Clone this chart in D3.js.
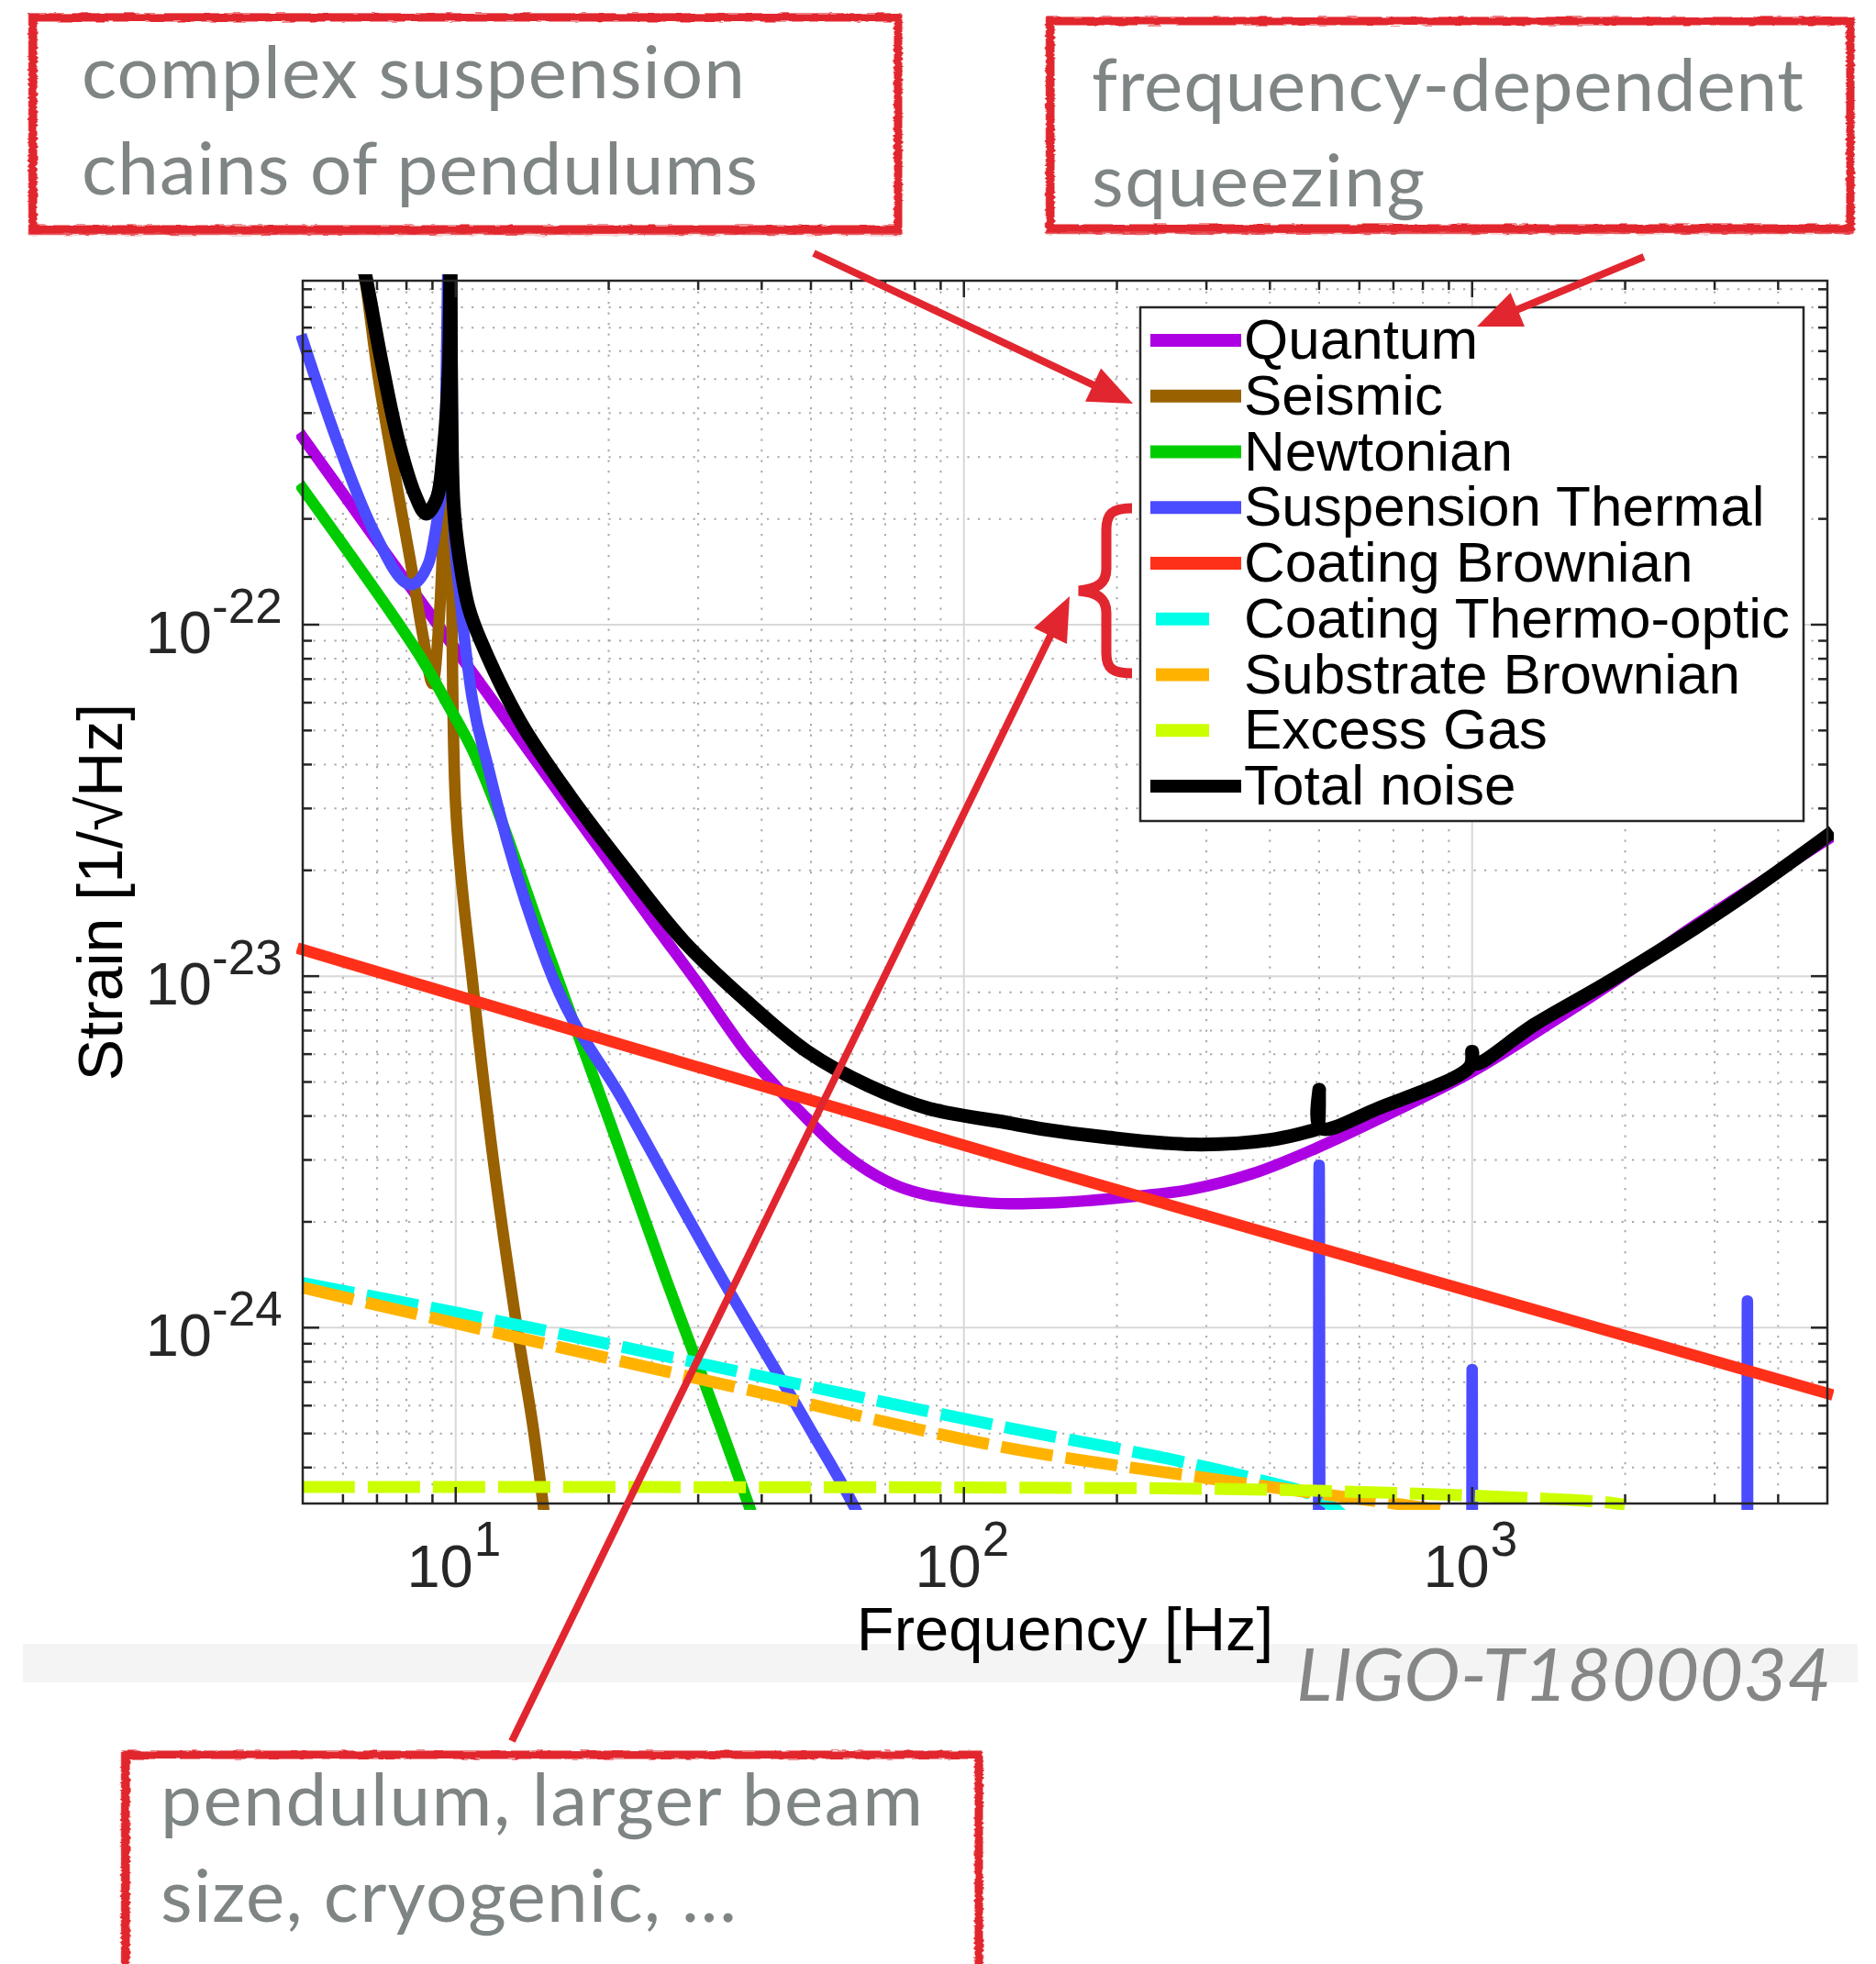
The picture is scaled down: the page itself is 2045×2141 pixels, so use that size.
<!DOCTYPE html>
<html>
<head>
<meta charset="utf-8">
<script src="https://d3js.org/d3.v7.min.js"></script>
<style>
  html, body { margin: 0; padding: 0; background: #ffffff; }
  svg { display: block; }
</style>
</head>
<body>
<div id="chart"></div>
<script>
// ---- Axis limits and tick labels -------------------------------------------
const freqDomain = [5, 5000];                 // Hz
const strainDomain = [3.16e-25, 9.52e-22];    // 1/sqrt(Hz)
const freqMajorTicks = [10, 100, 1000];
const freqTickExponents = ["1", "2", "3"];
const strainMajorTicks = [1e-24, 1e-23, 1e-22];
const strainTickExponents = ["-24", "-23", "-22"];

// ---- Noise budget curves: frequency [Hz] / amplitude spectral density -------
const quantumFreq = [5, 7, 10, 15, 20, 25, 30, 37.3, 42.8, 49.2, 56.4, 64.9, 74.5, 85.4, 113, 145, 209, 278, 369, 491, 654, 1000, 1330, 1893, 2713, 5000];
const quantumASD  = [3.41e-22, 1.73e-22, 8.5e-23, 3.77e-23, 2.12e-23, 1.36e-23, 9.5e-24, 6.08e-24, 4.84e-24, 3.92e-24, 3.24e-24, 2.79e-24, 2.52e-24, 2.38e-24, 2.26e-24, 2.26e-24, 2.35e-24, 2.47e-24, 2.74e-24, 3.23e-24, 3.92e-24, 5.35e-24, 6.9e-24, 9.6e-24, 1.38e-23, 2.45e-23];

const seismicFreq = [6.3, 6.6, 7.05, 7.6, 8.13, 8.62, 9.0, 9.26, 9.5, 9.75, 10.0, 10.83, 11.89, 13.2, 14.2, 15.0];
const seismicASD  = [1.4e-21, 1.0e-21, 5.0e-22, 2.65e-22, 1.54e-22, 9.3e-23, 6.8e-23, 9.95e-23, 2.22e-22, 6.0e-22, 3.03e-23, 9.2e-24, 2.9e-24, 1.0e-24, 5.2e-25, 2.8e-25];

const newtonianFreq = [5, 8.4, 9.6, 10.76, 12.02, 15.1, 20, 26, 30, 37.8, 39];
const newtonianASD  = [2.44e-22, 8.38e-23, 6.0e-23, 4.44e-23, 3.03e-23, 1.2e-23, 3.93e-24, 1.36e-24, 7.8e-25, 3.1e-25, 2.7e-25];

const suspensionFreq = [5, 5.83, 6.89, 8.17, 8.85, 9.26, 9.5, 9.75, 9.9, 10.2, 10.7, 11.6, 12.1, 15.15, 21.5, 33.9, 50, 61.5, 70, 497, 500, 503, 997, 1000, 1003, 3470, 3480, 3490, 5000];
const suspensionASD  = [6.45e-22, 3.36e-22, 1.85e-22, 1.30e-22, 1.50e-22, 2.12e-22, 2.8e-22, 2.0e-21, 2.0e-22, 1.2e-22, 6.6e-23, 3.9e-23, 3.05e-23, 1.08e-23, 4.34e-24, 1.33e-24, 5.1e-25, 3.0e-25, 2.0e-25, 1e-26, 2.9e-24, 1e-26, 1e-26, 7.6e-25, 1e-26, 1e-26, 1.19e-24, 1e-26, 1e-26];

const coatingBrownianFreq = [5, 21.5, 145, 5000];
const coatingBrownianASD  = [1.19e-23, 6.35e-24, 2.82e-24, 6.5e-25];

const coatingThermoOpticFreq = [5, 12.3, 38, 123, 250, 375, 500, 560];
const coatingThermoOpticASD  = [1.34e-24, 1.04e-24, 7.38e-25, 5.18e-25, 4.25e-25, 3.71e-25, 3.28e-25, 2.9e-25];

const substrateBrownianFreq = [5, 12.3, 38, 118, 369, 844, 900];
const substrateBrownianASD  = [1.30e-24, 9.6e-25, 6.63e-25, 4.59e-25, 3.58e-25, 3.04e-25, 2.98e-25];

const excessGasFreq = [5, 100, 300, 515, 933, 1862, 2000];
const excessGasASD  = [3.52e-25, 3.51e-25, 3.48e-25, 3.43e-25, 3.34e-25, 3.18e-25, 3.13e-25];

const totalFreq = [6.3, 6.63, 7.15, 7.7, 8.33, 8.74, 9.17, 9.45, 9.7, 9.76, 9.9, 10.2, 10.6, 11.2, 13.4, 16.8, 21.5, 28.2, 37.3, 49.2, 64.9, 85.4, 123, 145, 187, 283, 400, 494, 497, 500, 503, 654, 990, 1000, 1010, 1330, 1893, 3148, 5000];
const totalASD  = [1.4e-21, 1.0e-21, 5.58e-22, 3.37e-22, 2.33e-22, 2.07e-22, 2.28e-22, 3.07e-22, 5.6e-22, 3.0e-21, 2.22e-22, 1.5e-22, 1.12e-22, 9.0e-23, 5.3e-23, 3.25e-23, 2.03e-23, 1.25e-23, 8.5e-24, 6.1e-24, 4.88e-24, 4.2e-24, 3.82e-24, 3.66e-24, 3.49e-24, 3.32e-24, 3.42e-24, 3.67e-24, 3.69e-24, 4.75e-24, 3.70e-24, 4.21e-24, 5.53e-24, 6.1e-24, 5.63e-24, 7.3e-24, 9.8e-24, 1.56e-23, 2.51e-23];

const legendLabels = ["Quantum", "Seismic", "Newtonian", "Suspension Thermal", "Coating Brownian",
                      "Coating Thermo-optic", "Substrate Brownian", "Excess Gas", "Total noise"];
const seriesColors = ["#ad00e3", "#996100", "#00cc00", "#4b4bff", "#ff3019",
                      "#00ffe6", "#ffb300", "#ccff00", "#000000"];
const seriesDashed = [false, false, false, false, false, true, true, true, false];
// Narrow mechanical resonances are traced without overshoot
const seriesSharpPeaks = [false, false, false, true, false, false, false, false, false];

const seriesData = [
  [quantumFreq, quantumASD],
  [seismicFreq, seismicASD],
  [newtonianFreq, newtonianASD],
  [suspensionFreq, suspensionASD],
  [coatingBrownianFreq, coatingBrownianASD],
  [coatingThermoOpticFreq, coatingThermoOpticASD],
  [substrateBrownianFreq, substrateBrownianASD],
  [excessGasFreq, excessGasASD],
  [totalFreq, totalASD]
];

// ---- Canvas & plot box -----------------------------------------------------
const W = 2045, H = 2141;
const plot = { left: 330, right: 1992, top: 306, bottom: 1639 };
const axisColor = "#262626";
const annotRed = "#e2262f";
const annotGray = "#7f8484";
const annotFont = "Lato, 'Open Sans', sans-serif";
const plotFont = "'Liberation Sans', Arial, Helvetica, sans-serif";

const svg = d3.select("#chart").append("svg")
  .attr("width", W).attr("height", H)
  .attr("viewBox", `0 0 ${W} ${H}`);

svg.append("rect").attr("width", W).attr("height", H).attr("fill", "#ffffff");

const defs = svg.append("defs");
defs.append("clipPath").attr("id", "plotClip")
  .append("rect")
  .attr("x", plot.left - 7).attr("y", plot.top - 7)
  .attr("width", plot.right - plot.left + 14).attr("height", plot.bottom - plot.top + 14);

const rough = defs.append("filter").attr("id", "rough")
  .attr("x", "-3%").attr("y", "-3%").attr("width", "106%").attr("height", "106%");
rough.append("feTurbulence").attr("type", "fractalNoise")
  .attr("baseFrequency", "0.06 0.35").attr("numOctaves", 2).attr("seed", 7).attr("result", "noise");
rough.append("feDisplacementMap").attr("in", "SourceGraphic").attr("in2", "noise")
  .attr("scale", 4).attr("xChannelSelector", "R").attr("yChannelSelector", "G");

// Footer band behind the figure
svg.append("rect").attr("x", 25).attr("y", 1792).attr("width", 2000).attr("height", 42)
  .attr("fill", "#f4f4f4");

// ---- Scales ----------------------------------------------------------------
const x = d3.scaleLog().domain(freqDomain).range([plot.left, plot.right]);
const y = d3.scaleLog().domain(strainDomain).range([plot.bottom, plot.top]);

function decadeMultiples(domain) {
  const out = [];
  const lo = Math.floor(Math.log10(domain[0])), hi = Math.ceil(Math.log10(domain[1]));
  for (let k = lo; k <= hi; k++) {
    for (let m = 1; m <= 9; m++) {
      const v = +(m * Math.pow(10, k)).toPrecision(6);
      if (v > domain[0] * 1.0001 && v < domain[1] * 0.9999) out.push({ v, major: m === 1 });
    }
  }
  return out;
}
const xTicks = decadeMultiples(freqDomain);
const yTicks = decadeMultiples(strainDomain);

// ---- Grid ------------------------------------------------------------------
const grid = svg.append("g");
xTicks.forEach(t => {
  grid.append("line")
    .attr("x1", x(t.v)).attr("x2", x(t.v)).attr("y1", plot.top).attr("y2", plot.bottom)
    .attr("stroke", t.major ? "#d8d8d8" : "#a9a9a9")
    .attr("stroke-width", 2)
    .attr("stroke-dasharray", t.major ? null : "2.2 9.3");
});
yTicks.forEach(t => {
  grid.append("line")
    .attr("y1", y(t.v)).attr("y2", y(t.v)).attr("x1", plot.left).attr("x2", plot.right)
    .attr("stroke", t.major ? "#d8d8d8" : "#a9a9a9")
    .attr("stroke-width", 2)
    .attr("stroke-dasharray", t.major ? null : "2.2 9.3");
});

// ---- Curves ----------------------------------------------------------------
const smoothLine = d3.line()
  .x(d => x(d[0]))
  .y(d => y(d[1]))
  .curve(d3.curveCatmullRom.alpha(0.5));
const peakLine = d3.line()
  .x(d => x(d[0]))
  .y(d => y(d[1]))
  .curve(d3.curveMonotoneX);

const curves = svg.append("g").attr("clip-path", "url(#plotClip)");
seriesData.forEach((s, i) => {
  const pts = d3.zip(s[0], s[1]);
  const isTotal = i === seriesData.length - 1;
  curves.append("path")
    .datum(pts)
    .attr("d", seriesSharpPeaks[i] ? peakLine : smoothLine)
    .attr("fill", "none")
    .attr("stroke", seriesColors[i])
    .attr("stroke-width", isTotal ? 15 : (seriesDashed[i] ? 13 : 12.5))
    .attr("stroke-linecap", seriesDashed[i] ? "butt" : "square")
    .attr("stroke-linejoin", "miter")
    .attr("stroke-miterlimit", 2)
    .attr("stroke-dasharray", seriesDashed[i] ? "57 14" : null);
});

// ---- Axes box and ticks ----------------------------------------------------
const axes = svg.append("g").attr("stroke", axisColor).attr("stroke-width", 2.5);
xTicks.forEach(t => {
  const L = t.major ? 18 : 10, px = x(t.v);
  axes.append("line").attr("x1", px).attr("x2", px).attr("y1", plot.bottom).attr("y2", plot.bottom - L);
  axes.append("line").attr("x1", px).attr("x2", px).attr("y1", plot.top).attr("y2", plot.top + L);
});
yTicks.forEach(t => {
  const L = t.major ? 18 : 10, py = y(t.v);
  axes.append("line").attr("y1", py).attr("y2", py).attr("x1", plot.left).attr("x2", plot.left + L);
  axes.append("line").attr("y1", py).attr("y2", py).attr("x1", plot.right).attr("x2", plot.right - L);
});
axes.append("rect")
  .attr("x", plot.left).attr("y", plot.top)
  .attr("width", plot.right - plot.left).attr("height", plot.bottom - plot.top)
  .attr("fill", "none");

// Tick labels (10^n)
const tickLabels = svg.append("g").attr("font-family", plotFont).attr("fill", axisColor);
freqMajorTicks.forEach((v, i) => {
  const px = x(v);
  tickLabels.append("text").attr("x", px + 19).attr("y", 1730)
    .attr("text-anchor", "end").attr("font-size", 65).text("10");
  tickLabels.append("text").attr("x", px + 20).attr("y", 1696)
    .attr("text-anchor", "start").attr("font-size", 53).text(freqTickExponents[i]);
});
strainMajorTicks.forEach((v, i) => {
  const py = y(v);
  tickLabels.append("text").attr("x", 231).attr("y", py + 31)
    .attr("text-anchor", "end").attr("font-size", 65).text("10");
  tickLabels.append("text").attr("x", 231).attr("y", py - 2)
    .attr("text-anchor", "start").attr("font-size", 53).text(strainTickExponents[i]);
});

// Axis titles
svg.append("text")
  .attr("x", (plot.left + plot.right) / 2).attr("y", 1799)
  .attr("text-anchor", "middle").attr("font-family", plotFont).attr("font-size", 67)
  .attr("fill", "#000").text("Frequency [Hz]");
svg.append("text")
  .attr("transform", `translate(133, ${(plot.top + plot.bottom) / 2}) rotate(-90)`)
  .attr("text-anchor", "middle").attr("font-family", plotFont).attr("font-size", 68)
  .attr("fill", "#000").text("Strain [1/\u221AHz]");

// ---- Legend ----------------------------------------------------------------
const legend = svg.append("g");
const lg = { x: 1243, y: 335, w: 723, h: 560, row0: 371, step: 60.75 };
legend.append("rect")
  .attr("x", lg.x).attr("y", lg.y).attr("width", lg.w).attr("height", lg.h)
  .attr("fill", "#ffffff").attr("stroke", axisColor).attr("stroke-width", 2.5);
legendLabels.forEach((name, i) => {
  const ry = lg.row0 + i * lg.step;
  if (seriesDashed[i]) {
    legend.append("line").attr("x1", 1260).attr("x2", 1318).attr("y1", ry).attr("y2", ry)
      .attr("stroke", seriesColors[i]).attr("stroke-width", 14);
  } else {
    legend.append("line").attr("x1", 1254).attr("x2", 1353).attr("y1", ry).attr("y2", ry)
      .attr("stroke", seriesColors[i]).attr("stroke-width", 14);
  }
  legend.append("text").attr("x", 1356).attr("y", ry + 20)
    .attr("font-family", plotFont).attr("font-size", 62).attr("fill", "#000").text(name);
});

// ---- Annotations -----------------------------------------------------------
const notes = svg.append("g");

function arrow(sx, sy, tx, ty) {
  const dx = tx - sx, dy = ty - sy, len = Math.hypot(dx, dy);
  const ux = dx / len, uy = dy / len, nx = -uy, ny = ux;
  const headL = 48, headW = 20;
  const bx = tx - ux * headL, by = ty - uy * headL;
  notes.append("line").attr("x1", sx).attr("y1", sy)
    .attr("x2", bx + ux * 6).attr("y2", by + uy * 6)
    .attr("stroke", annotRed).attr("stroke-width", 8);
  notes.append("path")
    .attr("d", `M${tx},${ty}L${bx + nx * headW},${by + ny * headW}L${bx - nx * headW},${by - ny * headW}Z`)
    .attr("fill", annotRed);
}
arrow(887, 276, 1235, 440);
arrow(1792, 280, 1610, 356);
arrow(558, 1898, 1166, 650);

// Curly brace grouping the coating and substrate terms
notes.append("path")
  .attr("d", "M1234,554 C1212,554 1206,560 1206,578 L1206,620 C1206,636 1196,642 1176,644 C1196,646 1206,652 1206,668 L1206,712 C1206,728 1212,734 1234,734")
  .attr("fill", "none").attr("stroke", annotRed).attr("stroke-width", 11)
  .attr("stroke-linecap", "butt");

// Brushed red frames
function frame(x0, y0, x1, y1) {
  const g = notes.append("g").attr("filter", "url(#rough)");
  g.append("rect").attr("x", x0).attr("y", y0).attr("width", x1 - x0).attr("height", y1 - y0)
    .attr("fill", "none").attr("stroke", annotRed).attr("stroke-width", 9);
  g.append("rect").attr("x", x0 - 4).attr("y", y0 - 3).attr("width", x1 - x0 + 6).attr("height", y1 - y0 + 8)
    .attr("fill", "none").attr("stroke", annotRed).attr("stroke-width", 2.5).attr("opacity", 0.75);
}
frame(36, 19, 979, 250);
frame(1145, 23, 2017, 249);
frame(137, 1913, 1067, 2210);

function note(txt, x0, yb, len) {
  notes.append("text").attr("x", x0).attr("y", yb)
    .attr("font-family", annotFont).attr("font-size", 80).attr("fill", annotGray)
    .attr("textLength", len).attr("lengthAdjust", "spacing")
    .text(txt);
}
note("complex suspension", 89, 107, 723);
note("chains of pendulums", 89, 212, 737);
note("frequency-dependent", 1190, 121, 776);
note("squeezing", 1190, 225, 363);
note("pendulum, larger beam", 175, 1990, 831);
note("size, cryogenic, \u2026", 175, 2095, 628);

// Document reference
svg.append("text").attr("x", 1413).attr("y", 1854)
  .attr("font-family", annotFont).attr("font-style", "italic").attr("font-size", 80)
  .attr("fill", "#858787").attr("textLength", 583).attr("lengthAdjust", "spacingAndGlyphs")
  .text("LIGO-T1800034");
</script>
</body>
</html>
